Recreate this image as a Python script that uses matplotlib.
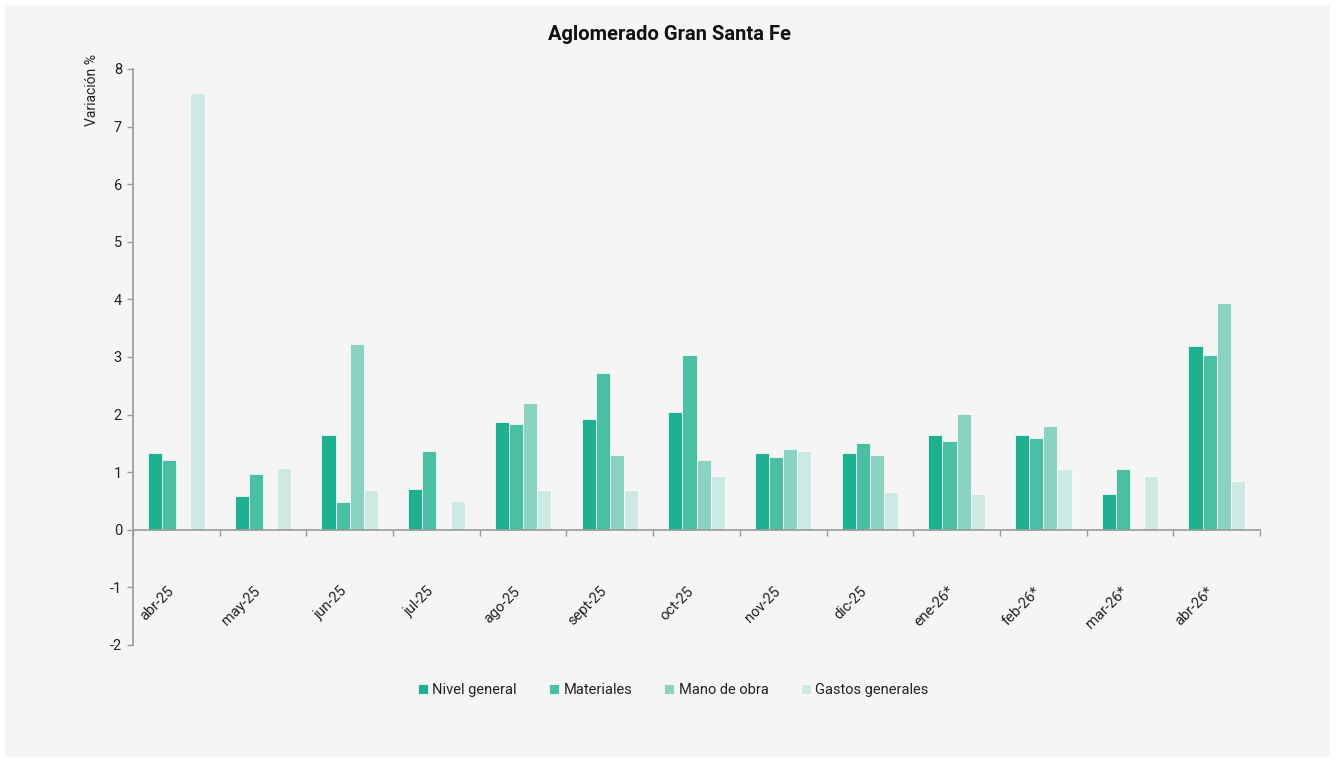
import numpy as np
import matplotlib
matplotlib.use("Agg")
import matplotlib.pyplot as plt
from matplotlib.patches import Rectangle

plt.rcParams['font.family'] = ['Roboto', 'DejaVu Sans']
plt.rcParams['axes.unicode_minus'] = False

categories = ["abr-25", "may-25", "jun-25", "jul-25", "ago-25", "sept-25", "oct-25",
              "nov-25", "dic-25", "ene-26*", "feb-26*", "mar-26*", "abr-26*"]
nivel_general = [1.34, 0.59, 1.65, 0.71, 1.88, 1.93, 2.05, 1.33, 1.33, 1.64, 1.64, 0.62, 3.19]
materiales    = [1.22, 0.97, 0.49, 1.37, 1.84, 2.73, 3.04, 1.26, 1.51, 1.55, 1.60, 1.06, 3.04]
mano_de_obra  = [np.nan, np.nan, 3.23, np.nan, 2.20, 1.30, 1.22, 1.41, 1.30, 2.01, 1.80, np.nan, 3.93]
gastos_gen    = [7.59, 1.08, 0.69, 0.50, 0.69, 0.69, 0.94, 1.37, 0.65, 0.62, 1.05, 0.94, 0.85]

series = [("Nivel general", nivel_general, "#1fb091"),
          ("Materiales", materiales, "#4bbfa4"),
          ("Mano de obra", mano_de_obra, "#8ad3c1"),
          ("Gastos generales", gastos_gen, "#cde9e3")]

fig = plt.figure(figsize=(13.38, 7.62), dpi=100, facecolor="white")
fig.patches.append(Rectangle((5/1338, 5/762), 1325/1338, 752/762, transform=fig.transFigure,
                             facecolor="#f5f5f5", edgecolor="none", zorder=-10))

ax = fig.add_axes([133/1338, 1-645/762, 1127/1338, 576/762])
ax.set_facecolor("none")

n = len(categories)
x = np.arange(n)
bw = 0.163
for i, (name, vals, col) in enumerate(series):
    ax.bar(x + (i - 1.5) * bw, vals, width=bw, color=col, edgecolor="white",
           linewidth=0.5, label=name, zorder=2)

ax.set_xlim(-0.5, n - 0.5)
ax.set_ylim(-2, 8)
ax.set_yticks(range(-2, 9))

for s in ["top", "right"]:
    ax.spines[s].set_visible(False)
ax.spines["bottom"].set_position(("data", 0))
for s in ["left", "bottom"]:
    ax.spines[s].set_color("#9a9a9a")
    ax.spines[s].set_linewidth(1.2)
    ax.spines[s].set_zorder(4)

ax.set_xticks(np.arange(-0.5, n, 1.0))
ax.set_xticklabels([])
ax.set_xticks(x, minor=True)
ax.set_xticklabels(categories, minor=True, rotation=45, ha="right", va="top",
                   fontsize=10.5, color="#222222")
ax.tick_params(axis="x", which="major", direction="out", length=4, color="#9a9a9a", width=1)
ax.tick_params(axis="x", which="minor", length=0, pad=39)
ax.tick_params(axis="y", direction="out", length=4, color="#9a9a9a", width=1,
               labelsize=10.5, labelcolor="#222222", pad=4)

fig.text(0.5, 1-34/762, "Aglomerado Gran Santa Fe", ha="center", va="center",
         fontsize=14.5, fontweight="bold", color="#111111")
fig.text(92/1338, 1-90/762, "Variación %", rotation=90, ha="center", va="center",
         fontsize=10, color="#222222")

leg = fig.legend(loc="center", bbox_to_anchor=(0.503, 1-690/762), ncol=4, frameon=False,
                 fontsize=10.5, handlelength=0.7, handleheight=0.7, handletextpad=0.3,
                 columnspacing=2.2)
for t in leg.get_texts():
    t.set_color("#222222")

fig.savefig("out.png", dpi=100, facecolor="white")
